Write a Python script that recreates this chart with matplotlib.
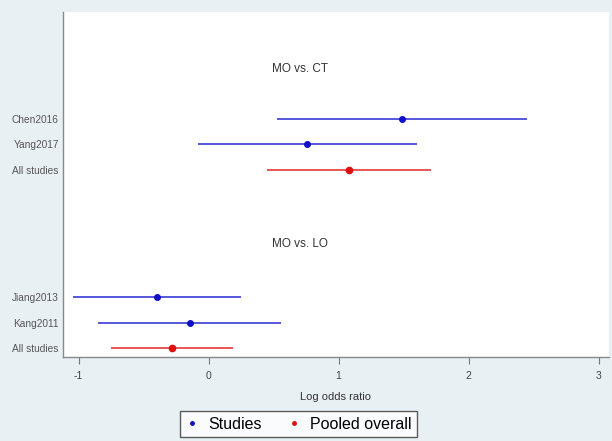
import numpy as np
import matplotlib.pyplot as plt

plt.rcParams['font.family'] = ['Liberation Sans', 'DejaVu Sans']

# study rows, top to bottom
labels = ['Chen2016', 'Yang2017', 'All studies', 'Jiang2013', 'Kang2011', 'All studies']
est = [1.49, 0.76, 1.08, -0.40, -0.14, -0.28]
lo = [0.53, -0.08, 0.45, -1.04, -0.85, -0.75]
hi = [2.45, 1.60, 1.71, 0.25, 0.56, 0.19]
pooled = [False, False, True, False, False, True]
ypos = [9, 8, 7, 2, 1, 0]

groups = ['MO vs. CT', 'MO vs. LO']
group_y = [10.95, 4.1]

xticks = [-1, 0, 1, 2, 3]

blue = '#3a3ad8'
blue_pt = '#1010c8'
red = '#e43a3a'
red_pt = '#e01010'

fig = plt.figure(figsize=(6.12, 4.41), dpi=100)
fig.patch.set_facecolor('#e9f0f4')
ax = fig.add_axes([0.103, 0.19, 0.892, 0.783])
ax.set_facecolor('white')

for i in range(len(labels)):
    lc = red if pooled[i] else blue
    pc = red_pt if pooled[i] else blue_pt
    ax.plot([lo[i], hi[i]], [ypos[i], ypos[i]], color=lc, lw=1.2, solid_capstyle='butt')
    ax.plot(est[i], ypos[i], 'o', color=pc, ms=4.5 if pooled[i] else 4, mec=pc)

for g, gy in zip(groups, group_y):
    ax.text(0.70, gy, g, ha='center', va='center', fontsize=8.5, color='#333333')

ax.set_xlim(-1.12, 3.08)
ax.set_ylim(-0.35, 13.2)
ax.set_xticks(xticks)
ax.set_xticklabels([str(t) for t in xticks], fontsize=7.5, color='#444444')
ax.set_yticks(ypos)
ax.set_yticklabels(labels, fontsize=7.3, color='#555555')
ax.tick_params(axis='x', length=5, color='#777777', pad=5)
ax.tick_params(axis='y', length=0, pad=3)
for s in ['top', 'right']:
    ax.spines[s].set_visible(False)
for s in ['left', 'bottom']:
    ax.spines[s].set_color('#888888')
    ax.spines[s].set_linewidth(1.0)

ax.set_xlabel('Log odds ratio', fontsize=8, color='#333333', labelpad=8)

h1, = ax.plot([], [], 'o', color=blue_pt, ms=2.5, label='Studies')
h2, = ax.plot([], [], 'o', color=red_pt, ms=2.5, label='Pooled overall')
leg = fig.legend(handles=[h1, h2], loc='center', bbox_to_anchor=(0.488, 0.038), ncol=2,
                 fontsize=11.5, frameon=True, fancybox=False, handlelength=0.8,
                 handletextpad=0.6, columnspacing=1.6, borderpad=0.35, borderaxespad=0)
leg.get_frame().set_edgecolor('#333333')
leg.get_frame().set_linewidth(1.0)

fig.savefig('out.png', dpi=100, facecolor=fig.get_facecolor())
